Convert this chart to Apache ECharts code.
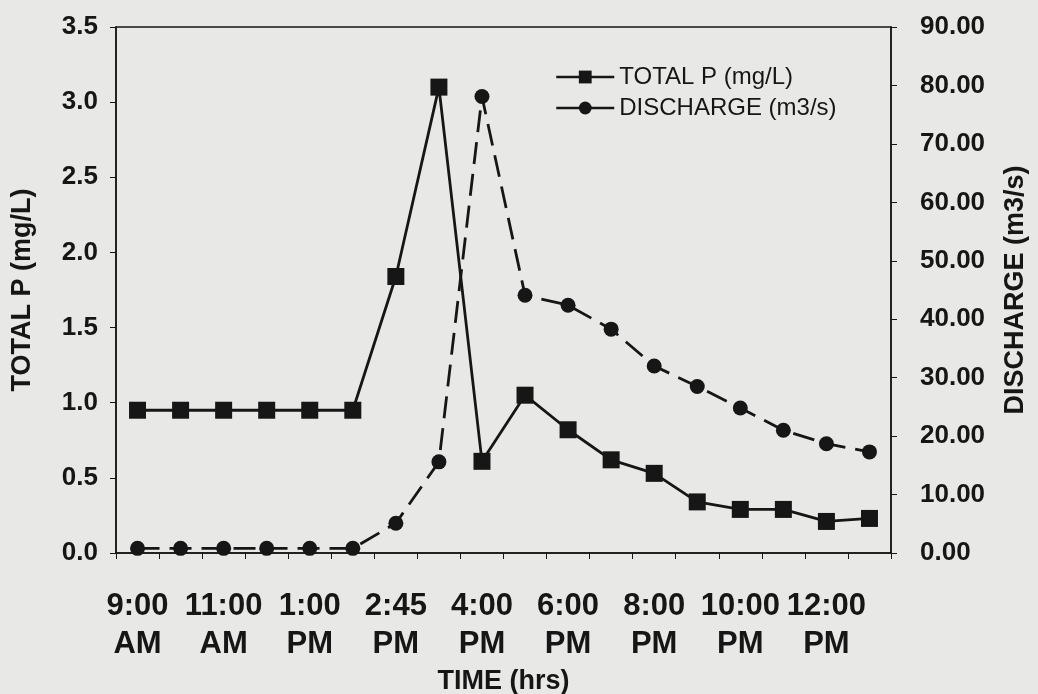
<!DOCTYPE html>
<html lang="en">
<head>
    <meta charset="UTF-8">
    <title>TOTAL P / DISCHARGE</title>
    <script src="https://cdn.jsdelivr.net/npm/echarts@6/dist/echarts.min.js"></script>
</head>
<style>
html,body{margin: 0;padding: 0;background-color: #e8e8e6}
#chartBox{width: 1038px;height: 694px}
</style>
<body>
    <div id="chartBox"></div>
</body>
<script>
// 横轴时间（只有隔一个点有标签）
const timeLabels = ['9:00\nAM', '', '11:00\nAM', '', '1:00\nPM', '', '2:45\nPM', '', '4:00\nPM', '',
    '6:00\nPM', '', '8:00\nPM', '', '10:00\nPM', '', '12:00\nPM', ''];
// 总磷 mg/L
const totalP = [0.95, 0.95, 0.95, 0.95, 0.95, 0.95, 1.84, 3.10, 0.61, 1.05,
    0.82, 0.62, 0.53, 0.34, 0.29, 0.29, 0.21, 0.23];
// 流量 m3/s
const discharge = [0.8, 0.8, 0.8, 0.8, 0.8, 0.8, 5.1, 15.6, 78.1, 44.1,
    42.4, 38.3, 32.0, 28.5, 24.8, 21.0, 18.7, 17.3];

const ink = '#161616';
const font = '"Liberation Sans", Arial, sans-serif';

function yAxisOption(name, min, max, interval, fmt, margin, nameGap) {
    return {
        type: 'value',
        name: name,
        nameLocation: 'middle',
        nameRotate: 90,
        nameGap: nameGap,
        nameTextStyle: {color: ink, fontSize: 27, fontWeight: 'bold', fontFamily: font},
        min: min,
        max: max,
        interval: interval,
        splitLine: {show: false},
        axisLine: {show: true, lineStyle: {color: ink, width: 1.5}},
        axisTick: {show: true, length: 6, lineStyle: {color: ink, width: 1}},
        axisLabel: {
            color: ink, fontSize: 26, fontWeight: 'bold', fontFamily: font,
            margin: margin, formatter: fmt
        }
    };
}

let chartObj = echarts.init(document.getElementById('chartBox'));
let option = {
    backgroundColor: '#e8e8e6',
    animation: false,
    grid: {
        left: 116,
        right: 147,
        top: 27,
        bottom: 141,
        outerBoundsMode: 'none',
        containLabel: false,
        show: true,
        borderColor: ink,
        borderWidth: 1.5,
        backgroundColor: 'transparent'
    },
    legend: {
        orient: 'vertical',
        left: 550,
        top: 60,
        itemWidth: 58,
        itemHeight: 16,
        itemGap: 7,
        lineStyle: {type: 'solid', width: 2.5},
        textStyle: {color: ink, fontSize: 24, fontFamily: font},
        data: ['TOTAL P (mg/L)', 'DISCHARGE (m3/s)']
    },
    xAxis: {
        type: 'category',
        data: timeLabels,
        boundaryGap: true,
        name: 'TIME (hrs)',
        nameLocation: 'middle',
        nameGap: 114,
        nameTextStyle: {color: ink, fontSize: 27, fontWeight: 'bold', fontFamily: font},
        axisLine: {lineStyle: {color: ink, width: 1.5}},
        axisTick: {show: true, interval: 0, length: 6, lineStyle: {color: ink, width: 1}},
        axisLabel: {
            interval: 0,
            color: ink, fontSize: 31, fontWeight: 'bold', fontFamily: font,
            lineHeight: 38, margin: 34
        }
    },
    yAxis: [
        yAxisOption('TOTAL P (mg/L)', 0, 3.5, 0.5, v => v.toFixed(1), 18, 80),
        yAxisOption('DISCHARGE (m3/s)', 0, 90, 10, v => v.toFixed(2), 29, 111)
    ],
    series: [
        {
            type: 'line',
            name: 'TOTAL P (mg/L)',
            yAxisIndex: 0,
            data: totalP,
            symbol: 'rect',
            symbolSize: 17,
            itemStyle: {color: ink},
            lineStyle: {color: ink, width: 2.8, type: 'solid'}
        },
        {
            type: 'line',
            name: 'DISCHARGE (m3/s)',
            yAxisIndex: 1,
            data: discharge,
            symbol: 'circle',
            symbolSize: 15,
            itemStyle: {color: ink},
            lineStyle: {color: ink, width: 2.8, type: [22, 10]}
        }
    ]
};
chartObj.setOption(option, true);
</script>
</html>
